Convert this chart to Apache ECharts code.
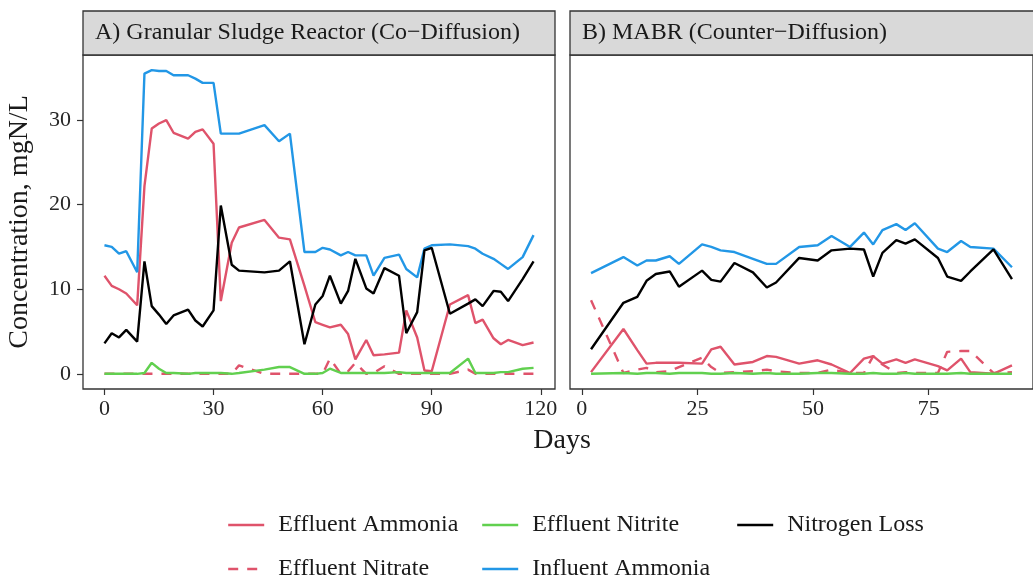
<!DOCTYPE html>
<html>
<head>
<meta charset="utf-8">
<script src="https://cdn.jsdelivr.net/npm/echarts@6/dist/echarts.min.js"></script>
<style>
html,body{margin:0;padding:0;background:#fff;}
#chart{width:1033px;height:583px;}
</style>
</head>
<body>
<div id="chart"></div>
<script>
// ---------- DATA ----------
const panelTitles = ['A) Granular Sludge Reactor (Co\u2212Diffusion)', 'B) MABR (Counter\u2212Diffusion)'];
const seriesNames = ['Effluent Ammonia', 'Effluent Nitrate', 'Effluent Nitrite', 'Influent Ammonia', 'Nitrogen Loss'];
const xTicksA = [0, 30, 60, 90, 120];
const xTicksB = [0, 25, 50, 75];
const yTicks = [0, 10, 20, 30];

// Panel A: Granular Sludge Reactor
const daysA = [0,2,4,6,9,11,13,15,17,19,23,25,27,30,32,35,37,44,48,51,55,58,60,62,65,67,69,72,74,77,81,83,86,88,90,95,100,102,104,107,109,111,115,118];
const effAmmoniaA = [11.6,10.4,10.0,9.5,8.1,22.2,29.0,29.6,30.0,28.5,27.8,28.6,28.9,27.2,8.6,15.5,17.3,18.2,16.1,15.9,10.4,6.1,5.8,5.5,5.8,4.7,1.7,4.0,2.2,2.3,2.5,7.5,4.3,0.4,0.3,8.2,9.3,6.0,6.4,4.2,3.5,4.0,3.4,3.7];
const effNitrateA = [0,0,0,0,0,0,0,0,0,0,0,0,0,0,0,0,1.0,0,0,0,0,0,0,1.8,0,0.3,1.3,0,0.1,0.9,0,0,0,0,0,0,0.5,0,0,0,0,0,0,0];
const effNitriteA = [0,0,0,0,0,0.1,1.3,0.6,0.1,0.1,0,0.1,0.1,0.1,0.1,0,0.1,0.5,0.8,0.8,0,0,0.1,0.6,0.1,0.1,0.1,0.1,0.1,0.1,0.2,0.1,0.1,0.1,0.1,0.1,1.8,0.1,0.1,0.1,0.2,0.2,0.6,0.7];
const infAmmoniaA = [15.2,15.0,14.2,14.5,12.0,35.5,35.9,35.8,35.8,35.3,35.3,34.9,34.4,34.4,28.4,28.4,28.4,29.4,27.5,28.4,14.4,14.4,14.9,14.7,14.0,14.4,14.0,14.0,11.6,13.7,14.1,12.4,11.4,14.8,15.2,15.3,15.1,14.8,14.2,13.6,13.0,12.4,13.8,16.4];
const nLossA = [3.6,4.8,4.3,5.2,3.8,13.3,8.0,7.0,5.9,6.9,7.6,6.3,5.6,7.5,19.9,12.9,12.2,12.0,12.2,13.3,3.5,8.2,9.2,11.6,8.3,9.8,13.6,10.1,9.5,12.5,11.6,4.8,7.3,14.6,14.9,7.1,8.3,8.8,8.0,9.8,9.7,8.6,11.2,13.3];

// Panel B: MABR
const daysB = [2,9,12,14,16,19,21,26,28,30,33,37,40,42,47,51,54,58,61,63,65,68,70,72,77,79,82,84,89,93];
const effAmmoniaB = [0.2,5.3,2.8,1.2,1.3,1.3,1.3,1.2,2.9,3.2,1.1,1.4,2.1,2.0,1.2,1.6,1.1,0.1,1.8,2.1,1.2,1.7,1.3,1.7,0.9,0.4,1.8,0.2,0.0,1.0];
const effNitrateB = [8.7,0.1,0.5,0.7,0.2,0.3,0.8,1.9,0.8,0.1,0.2,0.3,0.5,0.3,0.1,0.1,0.5,0.1,0.1,2.1,1.1,0.1,0.2,0.1,0.1,2.6,2.7,2.7,0.1,0.2];
const effNitriteB = [0.0,0.1,0.0,0.1,0.1,0.0,0.1,0.1,0.0,0.0,0.1,0.0,0.1,0.0,0.0,0.1,0.1,0.0,0.0,0.1,0.0,0.0,0.1,0.0,0.0,0.0,0.1,0.0,0.0,0.0];
const infAmmoniaB = [11.9,13.8,12.8,13.4,13.4,13.9,13.0,15.3,15.0,14.6,14.4,13.6,13.0,13.0,15.0,15.2,16.3,15.0,16.7,15.3,17.0,17.7,17.0,17.8,14.8,14.4,15.7,15.0,14.8,12.6];
const nLossB = [2.9,8.4,9.1,11.0,11.8,12.1,10.3,12.2,11.1,10.9,13.1,12.0,10.2,10.8,13.7,13.4,14.6,14.8,14.7,11.5,14.3,15.8,15.4,15.9,13.7,11.5,11.0,12.1,14.7,11.2];

// ---------- STYLE ----------
const FONT = '"Liberation Serif", "DejaVu Serif", serif';
const colors = {
  'Effluent Ammonia': '#DF536B',
  'Effluent Nitrate': '#DF536B',
  'Effluent Nitrite': '#61D04F',
  'Influent Ammonia': '#2297E6',
  'Nitrogen Loss': '#000000'
};
const dashed = {'Effluent Nitrate': [10, 9]};

function pairs(xs, ys) { return xs.map((x, i) => [x, ys[i]]); }
function range(xs, pad) {
  const lo = Math.min(...xs), hi = Math.max(...xs), d = (hi - lo) * pad;
  return [lo - d, hi + d];
}

const dataA = [effAmmoniaA, effNitrateA, effNitriteA, infAmmoniaA, nLossA];
const dataB = [effAmmoniaB, effNitrateB, effNitriteB, infAmmoniaB, nLossB];
const allY = [].concat(...dataA, ...dataB);
const yR = range([Math.min(...allY), Math.max(...allY)], 0.05);
const xRA = range(daysA, 0.05);
const xRB = range(daysB, 0.05);

const series = [];
[[daysA, dataA, 0], [daysB, dataB, 1]].forEach(([days, data, gi]) => {
  seriesNames.forEach((name, k) => {
    series.push({
      name: name,
      type: 'line',
      xAxisIndex: gi,
      yAxisIndex: gi,
      data: pairs(days, data[k]),
      symbol: 'none',
      smooth: false,
      z: 2 + k,
      lineStyle: {color: colors[name], width: 2.4, type: dashed[name] || 'solid', cap: 'butt'},
      itemStyle: {color: colors[name]},
      emphasis: {disabled: true}
    });
  });
});

const labelStyle = {fontFamily: FONT, fontSize: 22, color: '#262626'};
function xAxis(gi, r, ticks) {
  return {
    type: 'value', gridIndex: gi, min: r[0], max: r[1],
    axisLine: {show: false, onZero: false},
    splitLine: {show: false},
    axisTick: {show: true, length: 6, lineStyle: {color: '#333', width: 1.2}, customValues: ticks},
    axisLabel: Object.assign({margin: 9, customValues: ticks}, labelStyle)
  };
}

const gridTop = 55, gridH = 334, gridW = 472;
const legendPos = [
  ['Effluent Ammonia', 222, 508],
  ['Effluent Nitrite', 476, 508],
  ['Nitrogen Loss', 731, 508],
  ['Effluent Nitrate', 222, 552],
  ['Influent Ammonia', 476, 552]
];

const option = {
  animation: false,
  backgroundColor: '#ffffff',
  grid: [
    {left: 83, top: gridTop, width: gridW, height: gridH, show: true, borderColor: '#333333', borderWidth: 1.3, backgroundColor: '#fff'},
    {left: 570, top: gridTop, width: gridW, height: gridH, show: true, borderColor: '#333333', borderWidth: 1.3, backgroundColor: '#fff'}
  ],
  xAxis: [xAxis(0, xRA, xTicksA), xAxis(1, xRB, xTicksB)],
  yAxis: [
    {
      type: 'value', gridIndex: 0, min: yR[0], max: yR[1],
      name: 'Concentration, mgN/L', nameLocation: 'middle', nameGap: 49, nameRotate: 90,
      nameTextStyle: {fontFamily: FONT, fontSize: 28, color: '#1a1a1a'},
      axisLine: {show: false, onZero: false}, splitLine: {show: false},
      axisTick: {show: true, length: 6, lineStyle: {color: '#333', width: 1.2}, customValues: yTicks},
      axisLabel: Object.assign({margin: 12, customValues: yTicks}, labelStyle)
    },
    {
      type: 'value', gridIndex: 1, min: yR[0], max: yR[1],
      axisLine: {show: false, onZero: false}, splitLine: {show: false},
      axisTick: {show: false}, axisLabel: {show: false}
    }
  ],
  legend: legendPos.map(([name, x, y]) => ({
    data: [name], left: x, top: y, itemWidth: 36, itemHeight: 14,
    selectedMode: false,
    itemStyle: {opacity: 0},
    lineStyle: {width: 2.4},
    textStyle: {fontFamily: FONT, fontSize: 24, color: '#1a1a1a', padding: [0, 0, 0, 9]}
  })),
  graphic: [
    {type: 'rect', shape: {x: 83, y: 11, width: gridW, height: 44}, style: {fill: '#D9D9D9', stroke: '#333333', lineWidth: 1.3}, silent: true},
    {type: 'rect', shape: {x: 570, y: 11, width: gridW, height: 44}, style: {fill: '#D9D9D9', stroke: '#333333', lineWidth: 1.3}, silent: true},
    {type: 'text', x: 95, y: 33, style: {text: panelTitles[0], fontFamily: FONT, fontSize: 24, fill: '#1a1a1a', textAlign: 'left', textVerticalAlign: 'middle'}, silent: true},
    {type: 'text', x: 582, y: 33, style: {text: panelTitles[1], fontFamily: FONT, fontSize: 24, fill: '#1a1a1a', textAlign: 'left', textVerticalAlign: 'middle'}, silent: true},
    {type: 'text', x: 562, y: 441, style: {text: 'Days', fontFamily: FONT, fontSize: 28, fill: '#1a1a1a', textAlign: 'center', textVerticalAlign: 'middle'}, silent: true}
  ],
  series: series
};

const chart = echarts.init(document.getElementById('chart'), null, {renderer: 'canvas'});
chart.setOption(option);
</script>
</body>
</html>
